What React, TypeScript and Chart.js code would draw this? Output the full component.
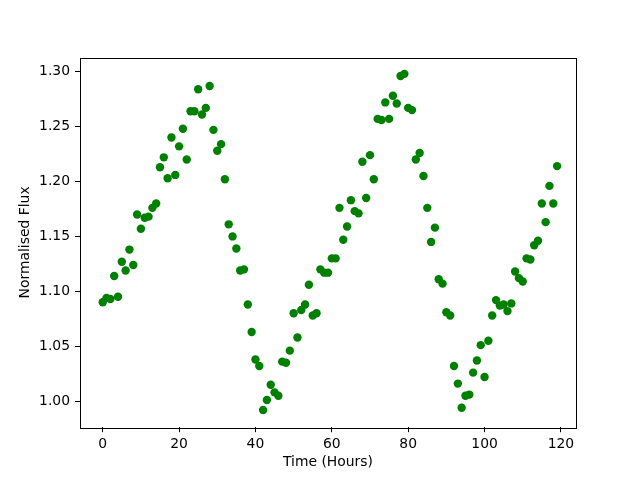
import React, { useEffect, useRef } from "react";
import { Chart, registerables } from "chart.js";

Chart.register(...registerables);

const hours: number[] = Array.from({ length: 120 }, (_, i) => i);

const flux: number[] = [
  1.090, 1.094, 1.093, 1.114, 1.095, 1.127, 1.119, 1.138, 1.124, 1.170,
  1.157, 1.167, 1.168, 1.176, 1.180, 1.213, 1.222, 1.203, 1.240, 1.206,
  1.232, 1.248, 1.220, 1.264, 1.264, 1.284, 1.261, 1.267, 1.287, 1.247,
  1.228, 1.234, 1.202, 1.161, 1.150, 1.139, 1.119, 1.120, 1.088, 1.063,
  1.038, 1.032, 0.992, 1.001, 1.015, 1.008, 1.005, 1.036, 1.035, 1.046,
  1.080, 1.058, 1.083, 1.088, 1.106, 1.078, 1.080, 1.120, 1.117, 1.117,
  1.130, 1.130, 1.176, 1.147, 1.159, 1.183, 1.173, 1.171, 1.218, 1.185,
  1.224, 1.202, 1.257, 1.256, 1.272, 1.257, 1.278, 1.271, 1.296, 1.298,
  1.267, 1.265, 1.220, 1.226, 1.205, 1.176, 1.145, 1.158, 1.111, 1.107,
  1.081, 1.078, 1.032, 1.016, 0.994, 1.005, 1.006, 1.026, 1.037, 1.051,
  1.022, 1.055, 1.078, 1.092, 1.087, 1.088, 1.082, 1.089, 1.118, 1.112,
  1.109, 1.130, 1.129, 1.142, 1.146, 1.180, 1.163, 1.196, 1.180, 1.214,
];

const xTitle = "Time (Hours)";
const yTitle = "Normalised Flux";

const FONT = "'DejaVu Sans', sans-serif";

const framePlugin = {
  id: "frame",
  afterDraw(chart: any) {
    const { ctx, chartArea } = chart;
    ctx.save();
    ctx.strokeStyle = "#000";
    ctx.lineWidth = 1;
    ctx.strokeRect(
      Math.round(chartArea.left) + 0.5,
      Math.round(chartArea.top) + 0.5,
      Math.round(chartArea.right - chartArea.left),
      Math.round(chartArea.bottom - chartArea.top)
    );
    ctx.restore();
  },
};

export default function App() {
  const ref = useRef<HTMLCanvasElement | null>(null);

  useEffect(() => {
    document.body.style.margin = "0";
    const canvas = ref.current;
    if (!canvas) return;
    const points = hours.map((h, i) => ({ x: h, y: flux[i] }));
    const chart = new Chart(canvas, {
      type: "scatter",
      data: {
        datasets: [
          {
            data: points,
            backgroundColor: "#008000",
            borderColor: "#008000",
            borderWidth: 0,
            pointRadius: 4.2,
            pointHoverRadius: 4.2,
          },
        ],
      },
      options: {
        responsive: false,
        animation: false,
        plugins: {
          legend: { display: false },
          tooltip: { enabled: false },
        },
        layout: { padding: { left: 0, right: 64, top: 57.6, bottom: 0 } },
        scales: {
          x: {
            type: "linear",
            min: -5.95,
            max: 123.95,
            border: { display: false },
            grid: {
              display: true,
              drawOnChartArea: false,
              drawTicks: true,
              tickLength: 5,
              tickColor: "#000",
              lineWidth: 1,
            },
            ticks: {
              stepSize: 20,
              includeBounds: false,
              color: "#000",
              padding: 4,
              maxRotation: 0,
              font: { family: FONT, size: 13.9 },
            },
            title: {
              display: true,
              text: xTitle,
              color: "#000",
              padding: { top: 0, bottom: 9 },
              font: { family: FONT, size: 13.9 },
            },
            afterFit(scale: any) {
              scale.height = 52.8;
            },
          },
          y: {
            type: "linear",
            min: 0.9763,
            max: 1.3128,
            border: { display: false },
            grid: {
              display: true,
              drawOnChartArea: false,
              drawTicks: true,
              tickLength: 5,
              tickColor: "#000",
              lineWidth: 1,
            },
            ticks: {
              stepSize: 0.05,
              includeBounds: false,
              color: "#000",
              padding: 5,
              font: { family: FONT, size: 13.9 },
              callback: (v: any) => Number(v).toFixed(2),
            },
            title: {
              display: true,
              text: yTitle,
              color: "#000",
              padding: { top: 17.5, bottom: 0 },
              font: { family: FONT, size: 13.9 },
            },
            afterFit(scale: any) {
              scale.width = 80;
            },
          },
        },
      },
      plugins: [framePlugin],
    });
    return () => chart.destroy();
  }, []);

  return (
    <div style={{ position: "absolute", left: 0, top: 0, width: 640, height: 480, background: "#fff" }}>
      <canvas ref={ref} width={640} height={480} style={{ display: "block" }} />
    </div>
  );
}
